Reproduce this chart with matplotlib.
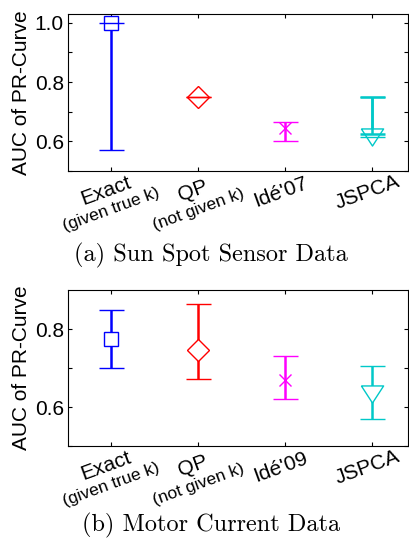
import numpy as np
import matplotlib.pyplot as plt

# methods and their colours / markers
methods = ["Exact", "QP", "Idé'07", "JSPCA"]
methods_b = ["Exact", "QP", "Idé'09", "JSPCA"]
notes = ["(given true k)", "(not given k)", "", ""]
colors = ["#0000ff", "#ff0000", "#ff00ff", "#00c8c8"]
tri = [(-1.3, 1), (1.3, 1), (0, -1), (-1.3, 1)]
markers = ["s", "D", "x", tri]
msizes = [10, 11, 9, 16]

# (a) Sun Spot Sensor Data
mean_a = [1.0, 0.75, 0.646, 0.615]
low_a = [0.571, 0.75, 0.601, 0.625]
high_a = [1.0, 0.75, 0.666, 0.75]

# (b) Motor Current Data
mean_b = [0.775, 0.747, 0.670, 0.634]
low_b = [0.700, 0.673, 0.621, 0.570]
high_b = [0.850, 0.864, 0.732, 0.705]

plt.rcParams['font.family'] = ['Liberation Sans', 'DejaVu Sans']

fig = plt.figure(figsize=(4.09, 5.42), dpi=100)
ax_a = fig.add_axes([0.1663, 0.6845, 0.8313, 0.2897])
ax_b = fig.add_axes([0.1663, 0.1771, 0.8313, 0.2878])


def panel(ax, means, lows, highs, names, ylim):
    x = np.arange(1, len(means) + 1)
    for i in range(len(means)):
        err = [[max(means[i] - lows[i], 0)], [max(highs[i] - means[i], 0)]]
        eb = ax.errorbar(x[i], means[i], yerr=err, color=colors[i], lw=1.8,
                         capsize=9, capthick=1.8, marker=markers[i],
                         ms=msizes[i], mfc='white' if i != 2 else colors[i],
                         mec=colors[i], mew=1.0)
        if lows[i] > means[i]:
            # lower cap above the mark, draw it explicitly
            ax.errorbar(x[i], lows[i], yerr=[[0], [highs[i] - lows[i]]],
                        color=colors[i], lw=1.8, capsize=9, capthick=1.8,
                        fmt='none', zorder=3)
        for c in eb[1]:
            c.set_zorder(3)
    ax.set_xlim(0.5, 4.42)
    ax.set_ylim(*ylim)
    ax.set_xticks(x)
    ax.set_xticklabels([])
    ax.set_yticks([0.6, 0.8, 1.0] if ylim[1] > 0.95 else [0.6, 0.8])
    ax.set_yticks(np.arange(0.5, ylim[1], 0.1), minor=True)
    ax.tick_params(which='both', direction='in', length=3, width=0.8,
                   top=True, right=True, labelsize=15, pad=3)
    for s in ax.spines.values():
        s.set_linewidth(0.8)
    ax.set_ylabel("AUC of PR-Curve", fontsize=15, labelpad=3)
    for i in range(len(names)):
        if notes[i]:
            ax.annotate(names[i], (x[i], 0), xycoords=('data', 'axes fraction'),
                        xytext=(-4, -14), textcoords='offset points',
                        ha='center', va='center', rotation=20,
                        rotation_mode='anchor', fontsize=15)
            ax.annotate(notes[i], (x[i], 0), xycoords=('data', 'axes fraction'),
                        xytext=(0, -27.5), textcoords='offset points',
                        ha='center', va='center', rotation=20,
                        rotation_mode='anchor', fontsize=12.5)
        else:
            ax.annotate(names[i], (x[i], 0), xycoords=('data', 'axes fraction'),
                        xytext=(-3, -15.5), textcoords='offset points',
                        ha='center', va='center', rotation=20,
                        rotation_mode='anchor', fontsize=15)


panel(ax_a, mean_a, low_a, high_a, methods, (0.5, 1.03))
panel(ax_b, mean_b, low_b, high_b, methods_b, (0.5, 0.9))

fig.text(0.516, 0.5295, "(a) Sun Spot Sensor Data", family='cmr10',
         fontsize=17.5, ha='center', va='center')
fig.text(0.516, 0.0314, "(b) Motor Current Data", family='cmr10',
         fontsize=17.5, ha='center', va='center')

fig.savefig("out.png", dpi=100)
